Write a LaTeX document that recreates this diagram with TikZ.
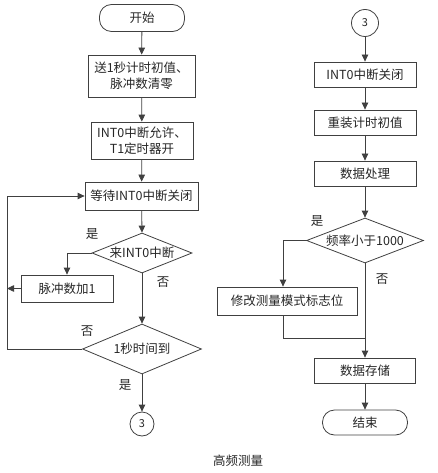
\documentclass[tikz,border=0pt]{standalone}
\usepackage{fontspec}
\setmainfont{Noto Sans CJK SC}
\usetikzlibrary{shapes.geometric,arrows.meta}
\begin{document}
\begin{tikzpicture}[x=1pt,y=-1pt,
  every node/.style={font=\fontsize{12.5}{15.5}\selectfont, text=black!85, inner sep=0pt},
  line/.style={draw=black!75, line width=0.8pt},
  arr/.style={line, -{Triangle[length=7pt,width=6.5pt]}},
  box/.style={draw=black!75, line width=0.8pt, rectangle, align=center},
  term/.style={draw=black!75, line width=0.8pt, rectangle, rounded corners=12pt},
  dec/.style={draw=black!75, line width=0.8pt, diamond, inner sep=0pt},
  conn/.style={draw=black!75, line width=0.8pt, circle, font=\fontsize{11}{13}\selectfont},
  lbl/.style={font=\fontsize{12.5}{15}\selectfont}]
\useasboundingbox (0,0) rectangle (438,473);
% left column
\node[term, minimum width=85pt, minimum height=27pt] (start) at (142,18) {开始};
\node[box, minimum width=107pt, minimum height=42pt] (b1) at (141.5,76) {送1秒计时初值、\\脉冲数清零};
\node[box, minimum width=102pt, minimum height=37pt] (b2) at (142,140.5) {INT0中断允许、\\T1定时器开};
\node[box, minimum width=113pt, minimum height=28pt] (b3) at (141.5,196) {等待INT0中断关闭};
\node[dec, minimum width=100pt, minimum height=40pt] (d1) at (142,253) {};
\node (d1t) at (d1) {来INT0中断};
\node[box, minimum width=92pt, minimum height=27pt] (pulse) at (67,288.5) {脉冲数加1};
\node[dec, minimum width=119pt, minimum height=50pt] (d2) at (142,349) {};
\node (d2t) at (d2) {1秒时间到};
\node[conn, minimum size=24pt] (c3a) at (142,424) {3};
\coordinate (loopL) at (7,349);
% right column
\node[conn, minimum size=27pt] (c3b) at (365,23) {3};
\node[box, minimum width=102pt, minimum height=25pt] (r1) at (365,74.5) {INT0中断关闭};
\node[box, minimum width=102pt, minimum height=25pt] (r2) at (365,122.5) {重装计时初值};
\node[box, minimum width=102pt, minimum height=25pt] (r3) at (365,173.5) {数据处理};
\node[dec, minimum width=117pt, minimum height=45pt] (d3) at (365,240.5) {};
\node (d3t) at (d3) {频率小于1000};
\node[box, minimum width=140pt, minimum height=28pt] (mod) at (287,301) {修改测量模式标志位};
\node[box, minimum width=101pt, minimum height=25pt] (store) at (365,370.5) {数据存储};
\node[term, minimum width=85pt, minimum height=25pt] (end) at (365,422.5) {结束};
\coordinate (join) at (365,338);
% connectors left
\draw[arr] (start) -- (b1);
\draw[arr] (b1) -- (b2);
\draw[arr] (b2) -- (b3);
\draw[arr] (b3) -- (d1.north);
\draw[arr] (d1.west) -| (pulse.north);
\draw[arr] (d1.south) -- (d2.north);
\draw[arr] (pulse.west) -- (pulse.west -| loopL);
\draw[arr] (d2.west) -- (loopL) |- (b3.west);
\draw[arr] (d2.south) -- (c3a.north);
% connectors right
\draw[arr] (c3b) -- (r1);
\draw[arr] (r1) -- (r2);
\draw[arr] (r2) -- (r3);
\draw[arr] (r3) -- (d3.north);
\draw[arr] (d3.west) -| ([xshift=-4pt]mod.north);
\draw[line] ([xshift=-4pt]mod.south) |- (join);
\draw[arr] (d3.south) -- (store.north);
\draw[arr] (store) -- (end);
% labels
\node[lbl] (l1) at (92,234) {是};
\node[lbl] (l2) at (163,282) {否};
\node[lbl] (l3) at (87,331) {否};
\node[lbl] (l4) at (125,385) {是};
\node[lbl] (l5) at (317,221) {是};
\node[lbl] (l6) at (382,279) {否};
\node[lbl] (cap) at (238,461) {高频测量};
\end{tikzpicture}
\end{document}
